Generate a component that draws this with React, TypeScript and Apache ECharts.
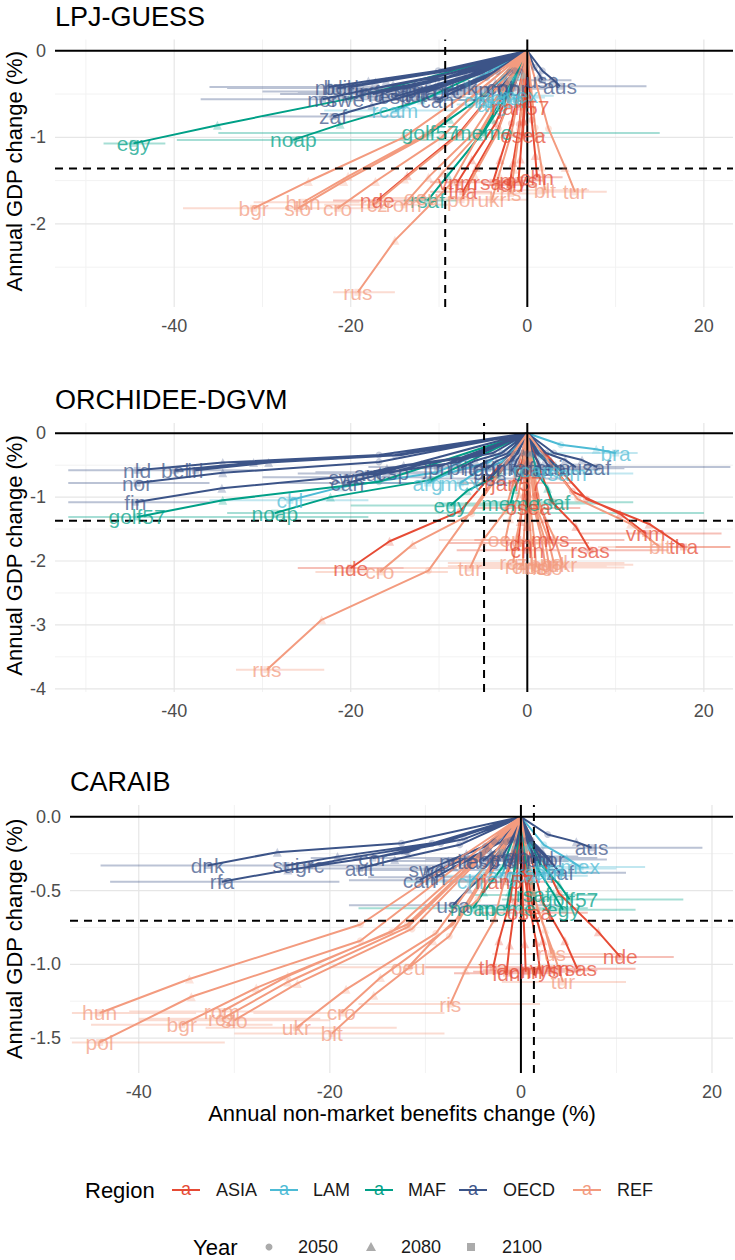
import React, { useEffect, useRef } from "react";
import * as echarts from "echarts";

const FONT = "'Liberation Sans', Arial, Helvetica, sans-serif";

// ---------- categories ----------
const oecdCountries = ["aus","aut","bel","can","cor","dnk","esp","fin","fra","gbr","grc","irl","ita","jpn","nld","nor","prt","rfa","sui","swe","usa","zaf"];
const lamCountries = ["arg","bra","chl","mex","rcam","rsam"];
const mafCountries = ["egy","golf57","meme","noap","rsaf"];
const asiaCountries = ["chn","idn","mys","nde","osea","rjan57","rsas","tha","vnm"];
const refCountries = ["bgr","blt","cro","hun","oeu","pol","rcz","ris","rom","rus","slo","tur","ukr"];
const regionNames = ["ASIA", "LAM", "MAF", "OECD", "REF"];
const regionColors = ["#E64B35", "#4DBBD5", "#00A087", "#3C5488", "#F39B7F"];
const yearLabels = ["2050", "2080", "2100"];
const panelTitles = ["LPJ-GUESS", "ORCHIDEE-DGVM", "CARAIB"];

const countries = [...oecdCountries, ...lamCountries, ...mafCountries, ...asiaCountries, ...refCountries];
const countryRegion = [
  ...oecdCountries.map(() => "OECD"),
  ...lamCountries.map(() => "LAM"),
  ...mafCountries.map(() => "MAF"),
  ...asiaCountries.map(() => "ASIA"),
  ...refCountries.map(() => "REF"),
];

// ---------- tick labels ----------
const xTickLabels = [-40, -20, 0, 20];
const yTickLabels = [[0, -1, -2], [0, -1, -2, -3, -4], [0, -0.5, -1, -1.5]];
const xMinorTicks = [[-50, -30, -10, 10], [-50, -30, -10, 10], [-30, -10, 10]];
const yMinorTicks = [[-0.5, -1.5, -2.5], [-0.5, -1.5, -2.5, -3.5], [-0.25, -0.75, -1.25]];
const dashedX = [-9.3, -4.9, 1.36];
const dashedY = [-1.36, -1.37, -0.705];

// ---------- LPJ-GUESS ----------
const lpjX2100 = [3.7,-13,-21.5,-10.2,-3,-7.6,-15,-19,-16,-1.7,-9,-20,-11.5,-4.5,-22.5,-23.2,-12.5,-17.5,-14,-20.6,1.7,-22,
  -4,-2.5,-5.7,-1,-15,-3,
  -44.6,-11,-5,-26.5,-11.3,
  1.1,-2,-1,-17,-0.5,-0.8,-3.9,-7.3,-7.9,
  -31,2,-21.5,-25.4,-12,-7.5,-17.4,-1.9,-14,-19.2,-26,5.4,-4];
const lpjY2100 = [-0.41,-0.5,-0.43,-0.57,-0.42,-0.43,-0.53,-0.47,-0.48,-0.44,-0.47,-0.42,-0.48,-0.45,-0.42,-0.56,-0.46,-0.5,-0.44,-0.56,-0.34,-0.76,
  -0.62,-0.54,-0.57,-0.52,-0.69,-0.58,
  -1.07,-0.95,-0.95,-1.03,-1.73,
  -1.46,-1.55,-1.5,-1.73,-0.98,-0.65,-1.52,-1.63,-1.52,
  -1.82,-1.61,-1.82,-1.75,-1.7,-1.72,-1.78,-1.65,-1.78,-2.79,-1.82,-1.63,-1.72];
const lpjX2080 = [3,-10.4,-17.2,-8.2,-2.4,-6.1,-12,-15.2,-12.8,-1.4,-7.2,-16,-9.2,-3.6,-18,-18.6,-10,-14,-11.2,-16.5,1.4,-17.6,
  -3.2,-2,-4.6,-0.8,-12,-2.4,
  -35.1,-8.8,-4,-21.2,-9,
  0.9,-1.6,-0.8,-13.6,-0.4,-0.6,-3.1,-5.8,-6.3,
  -24.8,1.6,-17.2,-20.3,-9.6,-6,-13.9,-1.5,-11.2,-15,-20.8,4.3,-3.2];
const lpjY2080 = [-0.34,-0.41,-0.36,-0.47,-0.35,-0.36,-0.44,-0.39,-0.4,-0.37,-0.39,-0.35,-0.4,-0.37,-0.35,-0.46,-0.38,-0.42,-0.37,-0.46,-0.28,-0.63,
  -0.51,-0.45,-0.47,-0.43,-0.57,-0.48,
  -0.86,-0.79,-0.79,-0.85,-1.44,
  -1.21,-1.29,-1.25,-1.44,-0.81,-0.54,-1.26,-1.35,-1.26,
  -1.51,-1.34,-1.51,-1.45,-1.41,-1.43,-1.48,-1.37,-1.46,-2.19,-1.51,-1.35,-1.43];
const lpjX2050 = [1.7,-5.9,-9.7,-4.6,-1.4,-3.4,-6.8,-8.6,-7.2,-0.8,-4.1,-9,-5.2,-2,-10.1,-10.4,-5.6,-7.9,-6.3,-9.3,0.8,-9.9,
  -1.8,-1.1,-2.6,-0.5,-6.8,-1.4,
  -20,-5,-2.3,-11.9,-5.1,
  0.5,-0.9,-0.5,-7.7,-0.2,-0.4,-1.8,-3.3,-3.6,
  -14,0.9,-9.7,-11.4,-5.4,-3.4,-7.8,-0.9,-6.3,-8.6,-11.7,2.4,-1.8];
const lpjY2050 = [-0.23,-0.28,-0.24,-0.31,-0.23,-0.24,-0.29,-0.26,-0.26,-0.24,-0.26,-0.23,-0.26,-0.25,-0.23,-0.31,-0.25,-0.28,-0.24,-0.31,-0.19,-0.42,
  -0.34,-0.3,-0.31,-0.29,-0.38,-0.32,
  -0.55,-0.52,-0.52,-0.57,-0.95,
  -0.8,-0.85,-0.83,-0.95,-0.54,-0.36,-0.84,-0.9,-0.84,
  -1,-0.89,-1,-0.96,-0.94,-0.95,-0.98,-0.91,-0.97,-1.53,-1,-0.9,-0.95];
const lpjErrLo = [-2,-22,-34,-18,-8,-14,-24,-30,-26,-6,-16,-36,-19,-9,-36,-37,-21,-28,-22,-31,-2,-30,
  -8,-7,-10,-5,-23,-7,
  -48,-35,-15,-39.7,-14,
  -1,-5,-4,-22,-3,-3,-7,-11,-11,
  -39,-2,-27,-31,-17,-12,-23,-6,-20,-22,-31,1,-9];
const lpjErrHi = [13.5,-5,-12,-3,1,-2,-7,-9,-8,2,-3,-10,-5,0,-13,-12,-5,-9,-6,-11,5,-14,
  0,2,-1,3,-8,1,
  -41,15,4,-5,-8,
  4,1,2,-12,2,1,-1,-4,-4,
  -24,7,-16,-19,-7,-3,-12,2,-9,-15,-20,9,0];

// ---------- ORCHIDEE-DGVM ----------
const orcX2100 = [5.5,-18,-39.9,-20.4,3.5,-3,-15.3,-44.4,1.5,-4.5,0,-37.6,-6,-10.2,-44.2,-44.2,-7.5,-1.5,2.5,-20.4,-4.2,7.9,
  -11.3,10,-26.9,-7.6,1,4.1,
  -8.7,-44.2,-1.9,-28.6,2.9,
  0,-1,2.6,-20,0.1,-1.6,7.1,17.7,13.4,
  2,15,-16.7,0.5,-2.5,3,-1.6,1,-0.5,-29.5,2.5,-6.5,4];
const orcY2100 = [-0.53,-0.63,-0.58,-0.78,-0.55,-0.55,-0.61,-1.08,-0.55,-0.55,-0.56,-0.58,-0.55,-0.53,-0.58,-0.78,-0.54,-0.53,-0.54,-0.69,-0.71,-0.53,
  -0.78,-0.31,-1.05,-0.78,-0.58,-0.63,
  -1.13,-1.31,-1.1,-1.25,-1.08,
  -1.83,-1.72,-1.67,-2.11,-1.17,-0.78,-1.83,-1.78,-1.57,
  -2.05,-1.78,-2.17,-2.08,-1.67,-2.03,-2.03,-2.1,-2.08,-3.7,-2.1,-2.11,-2.06];
const orcX2080 = [4.3,-14,-31,-16,2.7,-2.3,-12,-34.6,1.2,-3.5,0,-29.3,-4.7,-8,-34.5,-34.5,-5.9,-1.2,2,-15.9,-3.3,6.2,
  -8.8,7.8,-21,-5.9,0.8,3.2,
  -6.8,-34.5,-1.5,-22.3,2.3,
  0,-0.8,2,-15.6,0.1,-1.2,5.5,13.8,10.5,
  1.6,11.7,-13,0.4,-2,2.3,-1.2,0.8,-0.4,-23.3,2,-5.1,3.1];
const orcY2080 = [-0.42,-0.5,-0.46,-0.62,-0.44,-0.44,-0.49,-0.86,-0.44,-0.44,-0.45,-0.46,-0.44,-0.42,-0.46,-0.62,-0.43,-0.42,-0.43,-0.55,-0.57,-0.42,
  -0.62,-0.25,-0.84,-0.62,-0.46,-0.5,
  -0.9,-1.05,-0.88,-1,-0.86,
  -1.46,-1.38,-1.34,-1.69,-0.94,-0.62,-1.46,-1.42,-1.26,
  -1.64,-1.42,-1.74,-1.66,-1.34,-1.62,-1.62,-1.68,-1.66,-2.92,-1.68,-1.69,-1.65];
const orcX2050 = [2.1,-6.8,-15,-7.8,1.3,-1.1,-5.8,-16.9,0.6,-1.7,0,-14.3,-2.3,-3.9,-16.8,-16.8,-2.9,-0.6,1,-7.8,-1.6,3,
  -4.3,3.8,-10.2,-2.9,0.4,1.6,
  -3.3,-16.8,-0.7,-10.9,1.1,
  0,-0.4,1,-7.6,0,-0.6,2.7,6.7,5.1,
  0.8,5.7,-6.3,0.2,-1,1.1,-0.6,0.4,-0.2,-11.2,1,-2.5,1.5];
const orcY2050 = [-0.31,-0.37,-0.34,-0.45,-0.32,-0.32,-0.35,-0.63,-0.32,-0.32,-0.32,-0.34,-0.32,-0.31,-0.34,-0.45,-0.31,-0.31,-0.31,-0.4,-0.41,-0.31,
  -0.45,-0.18,-0.61,-0.45,-0.34,-0.37,
  -0.66,-0.76,-0.64,-0.73,-0.63,
  -1.06,-1,-0.97,-1.22,-0.68,-0.45,-1.06,-1.03,-0.91,
  -1.19,-1.03,-1.26,-1.21,-0.97,-1.18,-1.18,-1.22,-1.21,-2.15,-1.22,-1.22,-1.19];
const orcErrLo = [-2,-26,-48,-28,-4,-10,-24,-52,-6,-12,-8,-45,-14,-18,-52,-52,-15,-9,-5,-30,-12,-7.6,
  -20,2.3,-36,-15,-6,-3,
  -20,-52,-10,-34,-4,
  -8,-9,-6,-26,-6,-8,-1,10,6,
  -6,8,-24,-8,-10,-5,-9,-7,-9,-33,-6,-14,-4];
const orcErrHi = [14,-10,-32,-12,11,4,-6,-36,9,3,8,-30,3,-3,-36,-36,1,6,10,-10,4,23,
  -3,12.5,-18,0,8,12,
  2,-18,8,20,12,
  8,7,11,-14,6,5,16,23,22,
  10,23,-9,9,6,11,6,9,8,-23,11,1,12];

// ---------- CARAIB ----------
const carX2100 = [7.4,-16.9,-3,-10.6,-15.5,-32.8,-4,-9,-2,0,-22.1,-1,-5.5,1.5,2,3,-7.3,-31.3,-24.6,-9.8,-7.1,4.1,
  -2,3,-5.3,6.2,1,2,
  4.4,5.1,-1.5,-5,1.3,
  0.5,-1.5,2,10.4,0.9,-1.7,5.9,-2.9,3,
  -35.5,-19.8,-18.8,-44.1,-11.8,-44.1,-31.3,-7.4,-31.3,3.2,-30,4.4,-23.5];
const carY2100 = [-0.21,-0.35,-0.29,-0.43,-0.28,-0.33,-0.3,-0.41,-0.28,-0.27,-0.33,-0.3,-0.3,-0.29,-0.28,-0.29,-0.3,-0.44,-0.33,-0.36,-0.6,-0.38,
  -0.4,-0.35,-0.44,-0.34,-0.4,-0.38,
  -0.63,-0.56,-0.62,-0.62,-0.53,
  -1.05,-1.06,-1.04,-0.95,-0.65,-0.44,-1.03,-1.02,-1.03,
  -1.41,-1.47,-1.33,-1.33,-1.02,-1.53,-1.37,-1.27,-1.32,-0.93,-1.38,-1.12,-1.43];
const carX2080 = [5.8,-13.2,-2.3,-8.3,-12.1,-25.5,-3.1,-7,-1.6,0,-17.2,-0.8,-4.3,1.2,1.6,2.3,-5.7,-24.4,-19.2,-7.6,-5.5,3.2,
  -1.6,2.3,-4.1,4.8,0.8,1.6,
  3.4,4,-1.2,-3.9,1,
  0.4,-1.2,1.6,8.1,0.7,-1.3,4.6,-2.3,2.3,
  -27.7,-15.4,-14.7,-34.7,-9.2,-34.5,-24.4,-5.8,-24.4,2.5,-23.4,3.4,-18.3];
const carY2080 = [-0.17,-0.29,-0.24,-0.35,-0.23,-0.24,-0.25,-0.34,-0.23,-0.22,-0.27,-0.25,-0.25,-0.24,-0.23,-0.24,-0.25,-0.36,-0.27,-0.3,-0.49,-0.31,
  -0.33,-0.29,-0.36,-0.28,-0.33,-0.31,
  -0.52,-0.46,-0.51,-0.51,-0.43,
  -0.86,-0.87,-0.85,-0.78,-0.53,-0.36,-0.84,-0.84,-0.84,
  -1.16,-1.21,-1.09,-1.1,-0.84,-1.22,-1.12,-1.04,-1.08,-0.76,-1.13,-0.92,-1.17];
const carX2050 = [2.8,-6.4,-1.1,-4,-5.9,-12.5,-1.5,-3.4,-0.8,0,-8.4,-0.4,-2.1,0.6,0.8,1.1,-2.8,-11.9,-9.3,-3.7,-2.7,1.6,
  -0.8,1.1,-2,2.4,0.4,0.8,
  1.7,1.9,-0.6,-1.9,0.5,
  0.2,-0.6,0.8,4,0.3,-0.6,2.2,-1.1,1.1,
  -13.5,-7.5,-7.1,-16.8,-4.5,-16.8,-11.9,-2.8,-11.9,1.2,-11.4,1.7,-8.9];
const carY2050 = [-0.12,-0.19,-0.16,-0.24,-0.15,-0.18,-0.17,-0.23,-0.15,-0.15,-0.18,-0.17,-0.17,-0.16,-0.15,-0.16,-0.17,-0.24,-0.18,-0.2,-0.33,-0.21,
  -0.22,-0.19,-0.24,-0.19,-0.22,-0.21,
  -0.35,-0.31,-0.34,-0.34,-0.29,
  -0.58,-0.58,-0.57,-0.52,-0.36,-0.24,-0.57,-0.56,-0.57,
  -0.78,-0.81,-0.73,-0.73,-0.56,-0.84,-0.75,-0.7,-0.73,-0.51,-0.76,-0.62,-0.79];
const carErrLo = [0,-24,-10,-18,-22,-44,-11,-16,-8,-6,-30,-7,-12,-4,-4,-3,-14,-43,-33,-17,-18,-2,
  -8,-3,-12,0,-5,-4,
  -3,-2,-8,-17,-5,
  -5,-7,-4,3,-5,-8,-1,-10,-3,
  -45,-30,-28,-47,-20,-47,-40,-17,-41,-3,-40,-2,-33];
const carErrHi = [19,-8,4,-3,-8,-3,3,-2,4,6,-14,5,2,8,8,9,0,-19,-16,-2,4,11,
  5,10,2,13,7,8,
  12,17,6,7,8,
  6,4,8,16,7,4,12,4,9,
  -26,-8,-8,-34,-3,-31,-21,2,-21,10,-20,11,-13];

// ---------- panel tables (built from the arrays above) ----------
const panelData = [
  { x50: lpjX2050, y50: lpjY2050, x80: lpjX2080, y80: lpjY2080, x100: lpjX2100, y100: lpjY2100, lo: lpjErrLo, hi: lpjErrHi },
  { x50: orcX2050, y50: orcY2050, x80: orcX2080, y80: orcY2080, x100: orcX2100, y100: orcY2100, lo: orcErrLo, hi: orcErrHi },
  { x50: carX2050, y50: carY2050, x80: carX2080, y80: carY2080, x100: carX2100, y100: carY2100, lo: carErrLo, hi: carErrHi },
];

// layout (pixels / axis extents)
const layout = [
  { left: 55, top: 39.5, width: 678, height: 267.5, xMin: -53.5, xMax: 23.3, yMin: -2.96, yMax: 0.13 },
  { left: 55, top: 423, width: 678, height: 269, xMin: -53.5, xMax: 23.3, yMin: -4.05, yMax: 0.16 },
  { left: 70, top: 805, width: 663, height: 268, xMin: -47.2, xMax: 22.2, yMin: -1.737, yMax: 0.08 },
];

const GAP: any = [null, null];

function hexA(hex: string, a: number) {
  const n = parseInt(hex.slice(1), 16);
  return `rgba(${(n >> 16) & 255},${(n >> 8) & 255},${n & 255},${a})`;
}

function buildOption() {
  const grid: any[] = [];
  const xAxis: any[] = [];
  const yAxis: any[] = [];
  const series: any[] = [];
  const graphic: any[] = [];

  layout.forEach((L, p) => {
    const d = panelData[p];
    grid.push({ left: L.left, top: L.top, width: L.width, height: L.height, containLabel: false });
    xAxis.push({
      type: "value", gridIndex: p, min: L.xMin, max: L.xMax,
      axisLine: { show: false }, axisTick: { show: false }, splitLine: { show: false },
      axisLabel: { customValues: xTickLabels, color: "#4D4D4D", fontSize: 18, margin: 10, fontFamily: FONT },
    });
    yAxis.push({
      type: "value", gridIndex: p, min: L.yMin, max: L.yMax,
      axisLine: { show: false }, axisTick: { show: false }, splitLine: { show: false },
      axisLabel: {
        customValues: yTickLabels[p], color: "#4D4D4D", fontSize: 18, margin: 9, fontFamily: FONT,
        formatter: (v: number) => (p === 2 ? v.toFixed(1) : String(Math.round(v))),
      },
    });
    const base = { type: "line", xAxisIndex: p, yAxisIndex: p, symbol: "none", silent: true, animation: false, connectNulls: false };

    // grid lines
    const minor: any[] = [];
    xMinorTicks[p].forEach((x) => minor.push([x, L.yMin], [x, L.yMax], GAP));
    yMinorTicks[p].forEach((y) => minor.push([L.xMin, y], [L.xMax, y], GAP));
    const major: any[] = [];
    xTickLabels.filter((x) => x !== 0).forEach((x) => major.push([x, L.yMin], [x, L.yMax], GAP));
    yTickLabels[p].filter((y) => y !== 0).forEach((y) => major.push([L.xMin, y], [L.xMax, y], GAP));
    series.push({ ...base, name: `minor${p}`, z: 1, data: minor, lineStyle: { color: "#F2F2F2", width: 1 } });
    series.push({ ...base, name: `major${p}`, z: 1, data: major, lineStyle: { color: "#E6E6E6", width: 1.2 } });

    // error bars + paths per region
    regionNames.forEach((r, ri) => {
      const err: any[] = [];
      const path: any[] = [];
      countries.forEach((c, i) => {
        if (countryRegion[i] !== r) return;
        err.push([d.lo[i], d.y100[i]], [d.hi[i], d.y100[i]], GAP);
        path.push([0, 0], [d.x50[i], d.y50[i]], [d.x80[i], d.y80[i]], [d.x100[i], d.y100[i]], GAP);
      });
      series.push({ ...base, name: `err-${r}-${p}`, z: 2, data: err, lineStyle: { color: hexA(regionColors[ri], 0.35), width: 2 } });
      series.push({ ...base, name: `path-${r}-${p}`, z: 3, data: path, lineStyle: { color: regionColors[ri], width: 2 } });
    });

    // reference lines
    series.push({
      ...base, name: `zero${p}`, z: 4,
      data: [[L.xMin, 0], [L.xMax, 0], GAP, [0, L.yMin], [0, L.yMax]],
      lineStyle: { color: "#000", width: 2 },
    });
    series.push({
      ...base, name: `dash${p}`, z: 4,
      data: [[dashedX[p], L.yMin], [dashedX[p], L.yMax], GAP, [L.xMin, dashedY[p]], [L.xMax, dashedY[p]]],
      lineStyle: { color: "#000", width: 2, type: [8, 6] },
    });

    // year markers
    const symbols = ["circle", "triangle", "rect"];
    const xs = [d.x50, d.x80, d.x100];
    const ys = [d.y50, d.y80, d.y100];
    symbols.forEach((s, k) => {
      series.push({
        type: "scatter", name: `year${yearLabels[k]}-${p}`, xAxisIndex: p, yAxisIndex: p, silent: true, z: 5,
        symbol: s, symbolSize: s === "triangle" ? 9 : 7,
        data: countries.map((c, i) => ({
          value: [xs[k][i], ys[k][i]],
          itemStyle: { color: hexA(regionColors[regionNames.indexOf(countryRegion[i])], 0.35) },
        })),
      });
    });

    // labels
    series.push({
      type: "scatter", name: `labels${p}`, xAxisIndex: p, yAxisIndex: p, silent: true, z: 6,
      symbolSize: 1, itemStyle: { color: "rgba(0,0,0,0)" },
      data: countries.map((c, i) => ({
        name: c,
        value: [d.x100[i], d.y100[i]],
        label: { color: hexA(regionColors[regionNames.indexOf(countryRegion[i])], 0.92) },
      })),
      label: { show: true, position: "inside", formatter: "{b}", fontSize: 21, fontFamily: FONT },
      labelLayout: { hideOverlap: false },
    });

    // titles
    graphic.push({
      type: "text", left: L.left, top: L.top - (p === 0 ? 36 : 37),
      style: { text: panelTitles[p], fontSize: 27, fontFamily: FONT, fill: "#000" },
    });
    graphic.push({
      type: "text", x: 14, y: L.top + L.height / 2 + (p === 2 ? 0 : -2), rotation: Math.PI / 2,
      style: { text: "Annual GDP change (%)", fontSize: 22, fontFamily: FONT, fill: "#000", align: "center", verticalAlign: "middle" },
    });
  });

  // x title
  graphic.push({
    type: "text", x: 402, y: 1113,
    style: { text: "Annual non-market benefits change (%)", fontSize: 22, fontFamily: FONT, fill: "#000", align: "center", verticalAlign: "middle" },
  });

  // legend: Region
  const ly1 = 1190;
  const keyX = [172, 270, 365, 459, 573];
  const labX = [216, 313, 408, 503, 617];
  graphic.push({ type: "text", x: 85, y: ly1, style: { text: "Region", fontSize: 22, fontFamily: FONT, fill: "#000", verticalAlign: "middle" } });
  regionNames.forEach((r, i) => {
    graphic.push({ type: "line", shape: { x1: keyX[i], y1: ly1, x2: keyX[i] + 28, y2: ly1 }, style: { stroke: regionColors[i], lineWidth: 2 } });
    graphic.push({ type: "text", x: keyX[i] + 14, y: ly1 - 1.5, style: { text: "a", fontSize: 18, fontFamily: FONT, fill: regionColors[i], align: "center", verticalAlign: "middle" } });
    graphic.push({ type: "text", x: labX[i], y: ly1, style: { text: r, fontSize: 18, fontFamily: FONT, fill: "#1a1a1a", verticalAlign: "middle" } });
  });

  // legend: Year
  const ly2 = 1247;
  const gray = "#ABABAB";
  graphic.push({ type: "text", x: 193, y: ly2, style: { text: "Year", fontSize: 22, fontFamily: FONT, fill: "#000", verticalAlign: "middle" } });
  graphic.push({ type: "circle", shape: { cx: 269, cy: ly2, r: 3.5 }, style: { fill: gray } });
  graphic.push({ type: "polygon", shape: { points: [[371, ly2 - 5], [366, ly2 + 4], [376, ly2 + 4]] }, style: { fill: gray } });
  graphic.push({ type: "rect", shape: { x: 467, y: ly2 - 4, width: 8, height: 8 }, style: { fill: gray } });
  const yrX = [298, 401, 502];
  yearLabels.forEach((y, i) => {
    graphic.push({ type: "text", x: yrX[i], y: ly2, style: { text: y, fontSize: 18, fontFamily: FONT, fill: "#1a1a1a", verticalAlign: "middle" } });
  });

  return {
    animation: false,
    backgroundColor: "#fff",
    textStyle: { fontFamily: FONT },
    grid, xAxis, yAxis, series, graphic,
  };
}

export default function App() {
  const ref = useRef<HTMLDivElement>(null);
  useEffect(() => {
    if (!ref.current) return;
    const chart = echarts.init(ref.current, undefined, { renderer: "svg" });
    chart.setOption(buildOption() as any);
    return () => chart.dispose();
  }, []);
  return <div ref={ref} style={{ position: "absolute", left: 0, top: 0, width: 735, height: 1260 }} />;
}
